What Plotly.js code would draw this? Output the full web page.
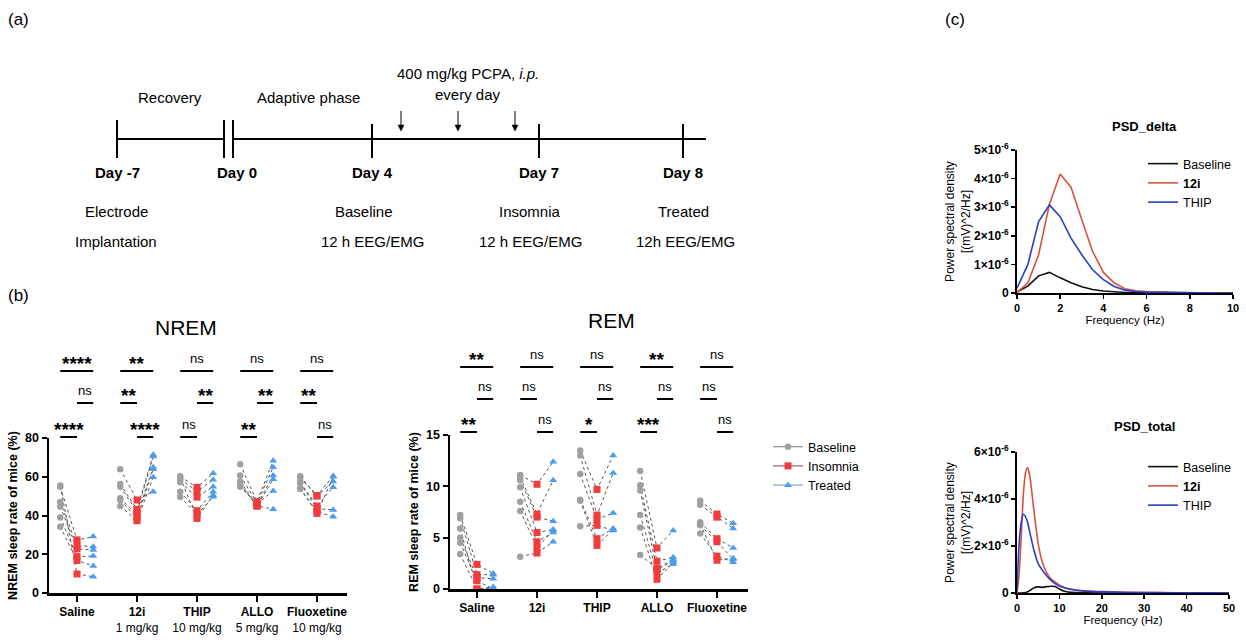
<!DOCTYPE html>
<html><head><meta charset="utf-8">
<script src="https://cdn.plot.ly/plotly-3.0.1.min.js"></script>
<style>html,body{margin:0;padding:0;background:#fff;} #chart{width:1246px;height:644px;}</style>
</head><body><div id="chart"></div>
<script>
// ---------------- DATA ----------------
const categories = ['Saline', '12i', 'THIP', 'ALLO', 'Fluoxetine'];
const doses = ['', '1 mg/kg', '10 mg/kg', '5 mg/kg', '10 mg/kg'];
const conditions = ['Baseline', 'Insomnia', 'Treated'];

// NREM sleep rate (%) per group, one value per mouse (same mouse order across conditions)
const nremBaseline = [
  [55.5, 54.8, 47.0, 44.6, 39.0, 34.2],
  [63.9, 56.3, 54.9, 48.9, 48.0, 44.9],
  [60.2, 58.8, 57.1, 52.3, 49.6, 59.5],
  [66.4, 60.6, 57.5, 56.3, 54.9, 55.7],
  [60.2, 59.5, 57.1, 56.8, 53.7, 54.2]
];
const nremInsomnia = [
  [9.8, 27.4, 24.5, 22.8, 18.8, 16.8],
  [48.0, 43.2, 42.0, 40.3, 38.6, 37.3],
  [54.5, 52.5, 49.5, 42.5, 40.5, 38.5],
  [47.2, 46.5, 45.5, 44.8, 46.0, 45.0],
  [50.3, 50.0, 44.9, 43.5, 42.0, 41.1]
];
const nremTreated = [
  [8.4, 29.1, 23.9, 22.2, 19.1, 14.0],
  [52.3, 71.3, 70.4, 64.9, 63.9, 59.7],
  [61.8, 58.4, 54.9, 52.3, 49.7, 50.5],
  [68.3, 64.9, 60.6, 58.7, 52.7, 43.2],
  [60.4, 57.5, 54.6, 42.9, 39.4, 60.0]
];

// REM sleep rate (%)
const remBaseline = [
  [7.2, 6.9, 5.9, 5.0, 4.5, 3.4],
  [11.1, 10.9, 10.6, 9.9, 8.5, 7.6, 3.15],
  [13.5, 13.0, 11.2, 8.7, 6.1, 8.6],
  [11.5, 10.1, 9.6, 7.2, 6.0, 3.3],
  [8.6, 8.2, 6.5, 6.2, 5.4, 6.3]
];
const remInsomnia = [
  [2.4, 1.4, 0.0, 1.1, 0.8, 0.0],
  [10.2, 7.3, 7.0, 5.5, 4.6, 4.05, 3.5],
  [9.7, 7.2, 6.8, 4.9, 6.2, 4.25],
  [4.0, 2.7, 1.9, 1.6, 0.95, 2.0],
  [7.3, 7.0, 4.9, 4.6, 3.2, 2.8]
];
const remTreated = [
  [1.5, 1.4, 0.1, 1.0, 0.0, 0.2],
  [12.4, 10.6, 6.6, 5.8, 5.5, 5.7, 4.6],
  [13.0, 11.3, 7.4, 5.9, 5.7, 5.8],
  [5.7, 3.1, 2.7, 2.4, 2.6, 2.9],
  [6.4, 5.9, 4.0, 2.9, 2.6, 3.0]
];

// significance labels: Baseline vs Treated, Baseline vs Insomnia, Insomnia vs Treated
const nremSigBT = ['****', '**', 'ns', 'ns', 'ns'];
const nremSigBI = ['****', '**', 'ns', '**', '**'];
const nremSigIT = ['ns', '****', '**', '**', 'ns'];
const remSigBT = ['**', 'ns', 'ns', '**', 'ns'];
const remSigBI = ['**', 'ns', '*', '***', 'ns'];
const remSigIT = ['ns', 'ns', 'ns', 'ns', 'ns'];

// PSD (delta band)
const deltaFreq = [0, 0.5, 1, 1.5, 2, 2.5, 3, 3.5, 4, 4.5, 5, 5.5, 6, 6.5, 7, 7.5, 8, 8.5, 9, 9.5, 10];
const deltaBaseline = [0.03e-6, 0.24e-6, 0.60e-6, 0.72e-6, 0.53e-6, 0.36e-6, 0.22e-6, 0.12e-6, 0.07e-6, 0.04e-6, 0.02e-6, 0.015e-6, 0.01e-6, 0.008e-6, 0.006e-6, 0.005e-6, 0.004e-6, 0.003e-6, 0.002e-6, 0.001e-6, 0.001e-6];
const delta12i = [0.02e-6, 0.35e-6, 1.34e-6, 3.1e-6, 4.16e-6, 3.7e-6, 2.56e-6, 1.45e-6, 0.72e-6, 0.35e-6, 0.15e-6, 0.08e-6, 0.05e-6, 0.03e-6, 0.02e-6, 0.015e-6, 0.01e-6, 0.006e-6, 0.004e-6, 0.002e-6, 0.001e-6];
const deltaTHIP = [0.17e-6, 0.99e-6, 2.5e-6, 3.08e-6, 2.67e-6, 1.92e-6, 1.34e-6, 0.81e-6, 0.47e-6, 0.23e-6, 0.10e-6, 0.05e-6, 0.03e-6, 0.02e-6, 0.012e-6, 0.008e-6, 0.005e-6, 0.003e-6, 0.002e-6, 0.001e-6, 0.001e-6];

// PSD (total)
const totalFreq = [0, 0.5, 1, 1.5, 2, 2.5, 3, 4, 5, 6, 7, 8, 9, 10, 11, 12, 14, 16, 18, 20, 25, 30, 35, 40, 45, 50];
const total12i = [0, 0.8e-6, 2.4e-6, 4.2e-6, 5.1e-6, 5.34e-6, 5.0e-6, 3.5e-6, 2.1e-6, 1.3e-6, 0.87e-6, 0.6e-6, 0.47e-6, 0.33e-6, 0.25e-6, 0.19e-6, 0.13e-6, 0.09e-6, 0.07e-6, 0.06e-6, 0.035e-6, 0.02e-6, 0.015e-6, 0.01e-6, 0.005e-6, 0.003e-6];
const totalTHIP = [0.1e-6, 2.1e-6, 3.0e-6, 3.35e-6, 3.25e-6, 3.0e-6, 2.6e-6, 1.82e-6, 1.25e-6, 0.97e-6, 0.73e-6, 0.54e-6, 0.4e-6, 0.3e-6, 0.23e-6, 0.18e-6, 0.12e-6, 0.08e-6, 0.06e-6, 0.05e-6, 0.03e-6, 0.02e-6, 0.012e-6, 0.008e-6, 0.005e-6, 0.003e-6];
const totalBaseline = [0, 0, 0, 0.01e-6, 0.02e-6, 0.05e-6, 0.1e-6, 0.22e-6, 0.26e-6, 0.24e-6, 0.27e-6, 0.29e-6, 0.28e-6, 0.17e-6, 0.08e-6, 0.04e-6, 0.02e-6, 0.01e-6, 0.005e-6, 0.003e-6, 0.002e-6, 0.001e-6, 0.001e-6, 0, 0, 0];

const psdNames = ['Baseline', '<b>12i</b>', 'THIP'];
const deltaYTicks = [0, 1e-6, 2e-6, 3e-6, 4e-6, 5e-6];
const deltaYTickText = ['0', '1×10<sup>-6</sup>', '2×10<sup>-6</sup>', '3×10<sup>-6</sup>', '4×10<sup>-6</sup>', '5×10<sup>-6</sup>'];
const totalYTicks = [0, 2e-6, 4e-6, 6e-6];
const totalYTickText = ['0', '2×10<sup>-6</sup>', '4×10<sup>-6</sup>', '6×10<sup>-6</sup>'];

// ---------------- LAYOUT HELPERS ----------------
const W = 1246, H = 644;
const fx = p => p / W, fy = p => 1 - p / H;
const FONT = 'Liberation Sans, Arial, sans-serif';
const offs = [-0.28, 0, 0.27];
const mColors = ['#a0a0a0', '#f23b3b', '#4a9cf0'];
const lColors = ['#a0a0a0', '#b08080', '#9cb8d8'];
const mSymbols = ['circle', 'square', 'triangle-up'];
const mSizes = [6.5, 7, 7];
const sigBIRow = [2, 1, 2, 2, 1];

function panelTraces(series, xa, ya, showLegend) {
  const traces = [];
  const lx = [], ly = [];
  categories.forEach((c, g) => {
    series[0][g].forEach((v, i) => {
      for (let k = 0; k < 3; k++) { lx.push(g + offs[k]); ly.push(series[k][g][i]); }
      lx.push(null); ly.push(null);
    });
  });
  traces.push({type: 'scatter', mode: 'lines', x: lx, y: ly, xaxis: xa, yaxis: ya, showlegend: false,
    hoverinfo: 'skip', line: {color: '#555', width: 1, dash: 'dot'}, connectgaps: false});
  for (let k = 0; k < 3; k++) {
    const mx = [], my = [];
    categories.forEach((c, g) => series[k][g].forEach(v => { mx.push(g + offs[k]); my.push(v); mx.push(null); my.push(null); }));
    traces.push({type: 'scatter', mode: 'lines+markers', name: conditions[k], x: mx, y: my, xaxis: xa, yaxis: ya,
      legendgroup: conditions[k], showlegend: showLegend, connectgaps: false,
      line: {color: lColors[k], width: 1.5},
      marker: {color: mColors[k], symbol: mSymbols[k], size: mSizes[k]}});
  }
  return traces;
}

const shapes = [], annotations = [];
function sig(xref, rowsPx, BT, BI, IT) {
  categories.forEach((c, g) => {
    const items = [
      [BT[g], 0, offs[0], offs[2]],
      [BI[g], sigBIRow[g], offs[0], offs[1]],
      [IT[g], 3 - sigBIRow[g], offs[1], offs[2]]
    ];
    items.forEach(([lab, row, a, b]) => {
      const yp = rowsPx[row];
      shapes.push({type: 'line', xref: xref, yref: 'paper', x0: g + a, x1: g + b, y0: fy(yp), y1: fy(yp), line: {color: '#000', width: 2}});
      const star = lab.indexOf('*') >= 0;
      annotations.push({xref: xref, yref: 'paper', x: g + (a + b) / 2, y: fy(yp - 3), yanchor: 'bottom', xanchor: 'center',
        showarrow: false, text: lab, yshift: star ? -8 : 0,
        font: {family: FONT, size: star ? 19 : 13, color: '#000', weight: star ? 700 : 400}});
    });
  });
}
sig('x', [371, 403, 437], nremSigBT, nremSigBI, nremSigIT);
sig('x2', [367, 399, 432], remSigBT, remSigBI, remSigIT);

function txt(x, y, text, size, opts) {
  annotations.push(Object.assign({xref: 'paper', yref: 'paper', x: fx(x), y: fy(y), text: text, showarrow: false,
    xanchor: 'center', yanchor: 'middle', font: {family: FONT, size: size, color: '#000'}}, opts || {}));
}
function hline(x0, x1, y, w) { shapes.push({type: 'line', xref: 'paper', yref: 'paper', x0: fx(x0), x1: fx(x1), y0: fy(y), y1: fy(y), line: {color: '#000', width: w}}); }
function vline(x, y0, y1, w) { shapes.push({type: 'line', xref: 'paper', yref: 'paper', x0: fx(x), x1: fx(x), y0: fy(y0), y1: fy(y1), line: {color: '#000', width: w}}); }
function downArrow(x, yTop, yTip) {
  vline(x, yTop, yTip - 4, 1);
  shapes.push({type: 'path', xref: 'paper', yref: 'paper', fillcolor: '#000', line: {color: '#000', width: 0.5},
    path: 'M ' + fx(x - 3) + ' ' + fy(yTip - 6) + ' L ' + fx(x + 3) + ' ' + fy(yTip - 6) + ' L ' + fx(x) + ' ' + fy(yTip) + ' Z'});
}

// ---- timeline (a)
txt(18, 20, '(a)', 17);
txt(18, 295, '(b)', 17);
txt(955, 20, '(c)', 17);
hline(117, 224, 139, 2);
hline(233, 706, 139, 2);
vline(117, 120, 158, 2);
vline(224, 120, 158, 2);
vline(233, 120, 158, 2);
vline(372, 124, 158, 2);
vline(539, 124, 158, 2);
vline(683, 124, 158, 2);
[401, 458, 515].forEach(x => downArrow(x, 111, 131));
txt(170, 97, 'Recovery', 15);
txt(308, 97, 'Adaptive phase', 15);
txt(468, 74, '400 mg/kg PCPA, <i>i.p.</i>', 15);
txt(468, 94, 'every day', 15);
txt(117, 173, '<b>Day -7</b>', 15);
txt(237, 173, '<b>Day 0</b>', 15);
txt(372, 173, '<b>Day 4</b>', 15);
txt(539, 173, '<b>Day 7</b>', 15);
txt(683, 173, '<b>Day 8</b>', 15);
txt(116, 211, 'Electrode', 15);
txt(116, 241, 'Implantation', 15);
txt(364, 211, 'Baseline', 15);
txt(372, 241, '12 h EEG/EMG', 15);
txt(530, 211, 'Insomnia', 15);
txt(530, 241, '12 h EEG/EMG', 15);
txt(683, 211, 'Treated', 15);
txt(685, 241, '12h EEG/EMG', 15);

// ---- panel titles
txt(186, 327, 'NREM', 21);
txt(611, 320, 'REM', 21);
txt(1144, 127, '<b>PSD_delta</b>', 13);
txt(1144, 427, '<b>PSD_total</b>', 13);

// ---------------- TRACES ----------------
let data = [];
data = data.concat(panelTraces([nremBaseline, nremInsomnia, nremTreated], 'x', 'y', true));
data = data.concat(panelTraces([remBaseline, remInsomnia, remTreated], 'x2', 'y2', false));
const psdColors = ['#111111', '#d4553f', '#2b3fc4'];
[deltaBaseline, delta12i, deltaTHIP].forEach((ys, k) => data.push({type: 'scatter', mode: 'lines', x: deltaFreq, y: ys,
  xaxis: 'x3', yaxis: 'y3', name: psdNames[k], legend: 'legend2', line: {color: psdColors[k], width: 1.6}}));
[totalBaseline, total12i, totalTHIP].forEach((ys, k) => data.push({type: 'scatter', mode: 'lines', x: totalFreq, y: ys,
  xaxis: 'x4', yaxis: 'y4', name: psdNames[k], legend: 'legend3', line: {color: psdColors[k], width: 1.6, shape: 'spline', smoothing: 0.6}}));

const catAxis = (dom, range, anchor, withDose) => ({
  domain: dom, range: range, anchor: anchor, tickvals: categories.map((c, i) => i),
  ticktext: categories.map((c, i) => '<b>' + c + '</b>' + (withDose && doses[i] ? '<br>' + doses[i] : '')),
  showline: true, linewidth: 2.5, linecolor: '#000', ticks: 'outside', ticklen: 6, tickwidth: 2, tickcolor: '#000',
  showgrid: false, zeroline: false, automargin: false, fixedrange: true,
  tickfont: {family: FONT, size: 12, color: '#000'}
});
const valAxis = (dom, range, anchor, dtick, title) => ({
  domain: dom, range: range, anchor: anchor, dtick: dtick, tick0: 0,
  showline: true, linewidth: 2.5, linecolor: '#000', ticks: 'outside', ticklen: 5, tickwidth: 2, tickcolor: '#000',
  showgrid: false, zeroline: false, automargin: false, fixedrange: true,
  tickfont: {family: FONT, size: 12.5, color: '#000', weight: 700},
  title: {text: '<b>' + title + '</b>', font: {family: FONT, size: 12.5, color: '#000'}, standoff: 5}
});
const psdX = (dom, range, anchor, dtick) => ({
  domain: dom, range: range, anchor: anchor, dtick: dtick, tick0: 0,
  showline: true, linewidth: 2, linecolor: '#000', ticks: 'outside', ticklen: 4, tickwidth: 1.5, tickcolor: '#000',
  showgrid: false, zeroline: false, automargin: false, fixedrange: true,
  tickfont: {family: FONT, size: 11, color: '#000', weight: 700},
  title: {text: 'Frequency (Hz)', font: {family: FONT, size: 11.5, color: '#000'}, standoff: 3}
});
const psdY = (dom, range, anchor, tv, tt) => ({
  domain: dom, range: range, anchor: anchor, tickvals: tv, ticktext: tt,
  showline: true, linewidth: 2, linecolor: '#000', ticks: 'outside', ticklen: 4, tickwidth: 1.5, tickcolor: '#000',
  showgrid: false, zeroline: false, automargin: false, fixedrange: true,
  tickfont: {family: FONT, size: 12, color: '#000', weight: 700},
  title: {text: 'Power spectral density<br>[(mV)^2/Hz]', font: {family: FONT, size: 12, color: '#000'}, standoff: 1}
});

const legendBase = {xanchor: 'left', yanchor: 'top', bgcolor: 'rgba(0,0,0,0)', borderwidth: 0, itemwidth: 30,
  tracegroupgap: 0, font: {family: FONT, size: 12.5, color: '#000'}, itemclick: false, itemdoubleclick: false};

const layout = {
  width: W, height: H, margin: {l: 0, r: 0, t: 0, b: 0}, paper_bgcolor: '#fff', plot_bgcolor: 'rgba(0,0,0,0)',
  font: {family: FONT, color: '#000'},
  xaxis: catAxis([fx(49), fx(347)], [-0.467, 4.5], 'y', true),
  yaxis: valAxis([fy(593), fy(438)], [0, 80], 'x', 20, 'NREM sleep rate of mice (%)'),
  xaxis2: catAxis([fx(450), fx(748)], [-0.45, 4.517], 'y2', false),
  yaxis2: valAxis([fy(589), fy(435)], [0, 15], 'x2', 5, 'REM sleep rate of mice (%)'),
  xaxis3: psdX([fx(1017), fx(1233)], [0, 10], 'y3', 2),
  yaxis3: psdY([fy(293), fy(150)], [0, 5e-6], 'x3', deltaYTicks, deltaYTickText),
  xaxis4: psdX([fx(1017), fx(1229)], [0, 50], 'y4', 10),
  yaxis4: psdY([fy(593), fy(452)], [0, 6e-6], 'x4', totalYTicks, totalYTickText),
  legend: Object.assign({}, legendBase, {x: fx(768), y: fy(432)}),
  legend2: Object.assign({}, legendBase, {x: fx(1143), y: fy(149)}),
  legend3: Object.assign({}, legendBase, {x: fx(1143), y: fy(452)}),
  shapes: shapes,
  annotations: annotations,
  showlegend: true
};

Plotly.newPlot('chart', data, layout, {staticPlot: true, displayModeBar: false});
</script>
</body></html>
